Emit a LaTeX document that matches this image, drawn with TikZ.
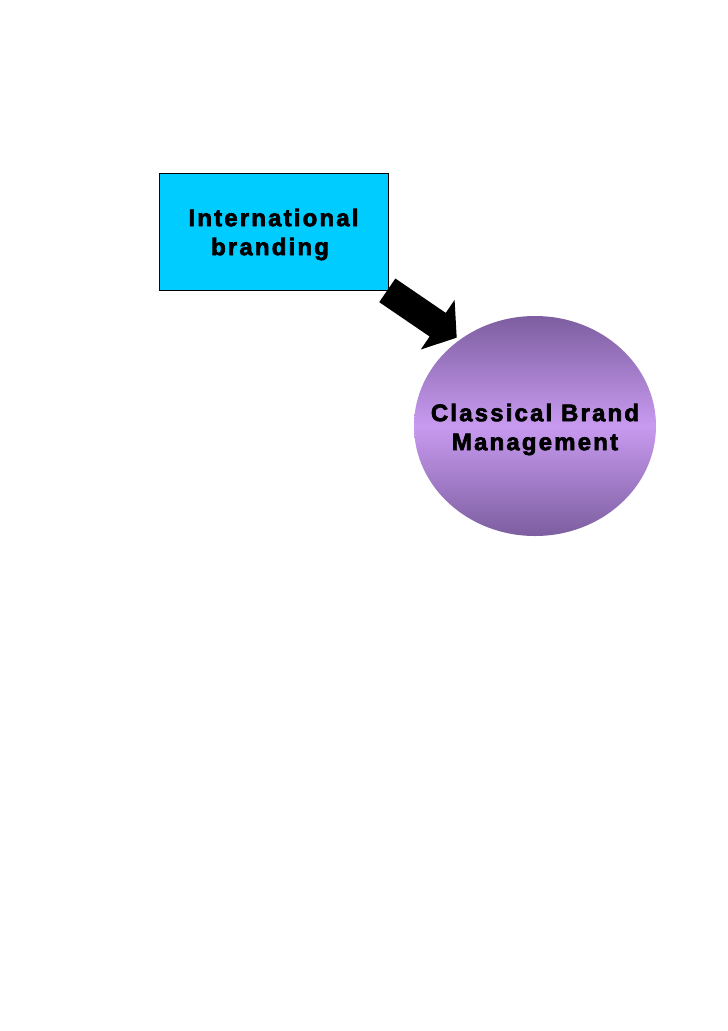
\documentclass[tikz,border=0pt]{standalone}
\usepackage{fontspec}
\usetikzlibrary{shapes.geometric}
\newfontfamily\lsfont[LetterSpace=9,BoldFeatures={FakeBold=2.6}]{Liberation Sans}
\definecolor{boxcyan}{RGB}{0,204,255}
\definecolor{purpedge}{RGB}{125,94,160}
\definecolor{purpmid}{RGB}{200,154,240}
\tikzset{
  lbl/.style={font=\lsfont\bfseries\fontsize{24}{29}\selectfont, align=center, text=black, inner sep=0pt},
  boxnode/.style={draw=black, line width=1pt, fill=boxcyan, minimum width=229pt, minimum height=117pt, inner sep=0pt},
  ovalnode/.style={ellipse, minimum width=242pt, minimum height=220pt, inner sep=0pt,
    top color=purpedge, bottom color=purpedge, middle color=purpmid},
}
\begin{document}
\begin{tikzpicture}[x=1pt,y=1pt]
\fill[white] (0,0) rectangle (728,-1031);
\useasboundingbox (0,0) rectangle (728,-1031);
\node[boxnode] (intl) at (273.5,-231.5) {};
\node[lbl] (intltext) at ([yshift=-3pt]intl.center) {International\\branding\hspace*{7pt}};
\node[ovalnode] (cbm) at (535,-426) {};
\node[lbl] (cbmtext) at ([yshift=-3.5pt]cbm.center) {Classical Brand\\Management};
\begin{scope}[shift={(422,-314)}, rotate=-34.3]
\fill[black] (-42,14.3) -- (19,14.3) -- (19,30) -- (42,0) -- (19,-30) -- (19,-14.3) -- (-42,-14.3) -- cycle;
\end{scope}
\end{tikzpicture}
\end{document}
